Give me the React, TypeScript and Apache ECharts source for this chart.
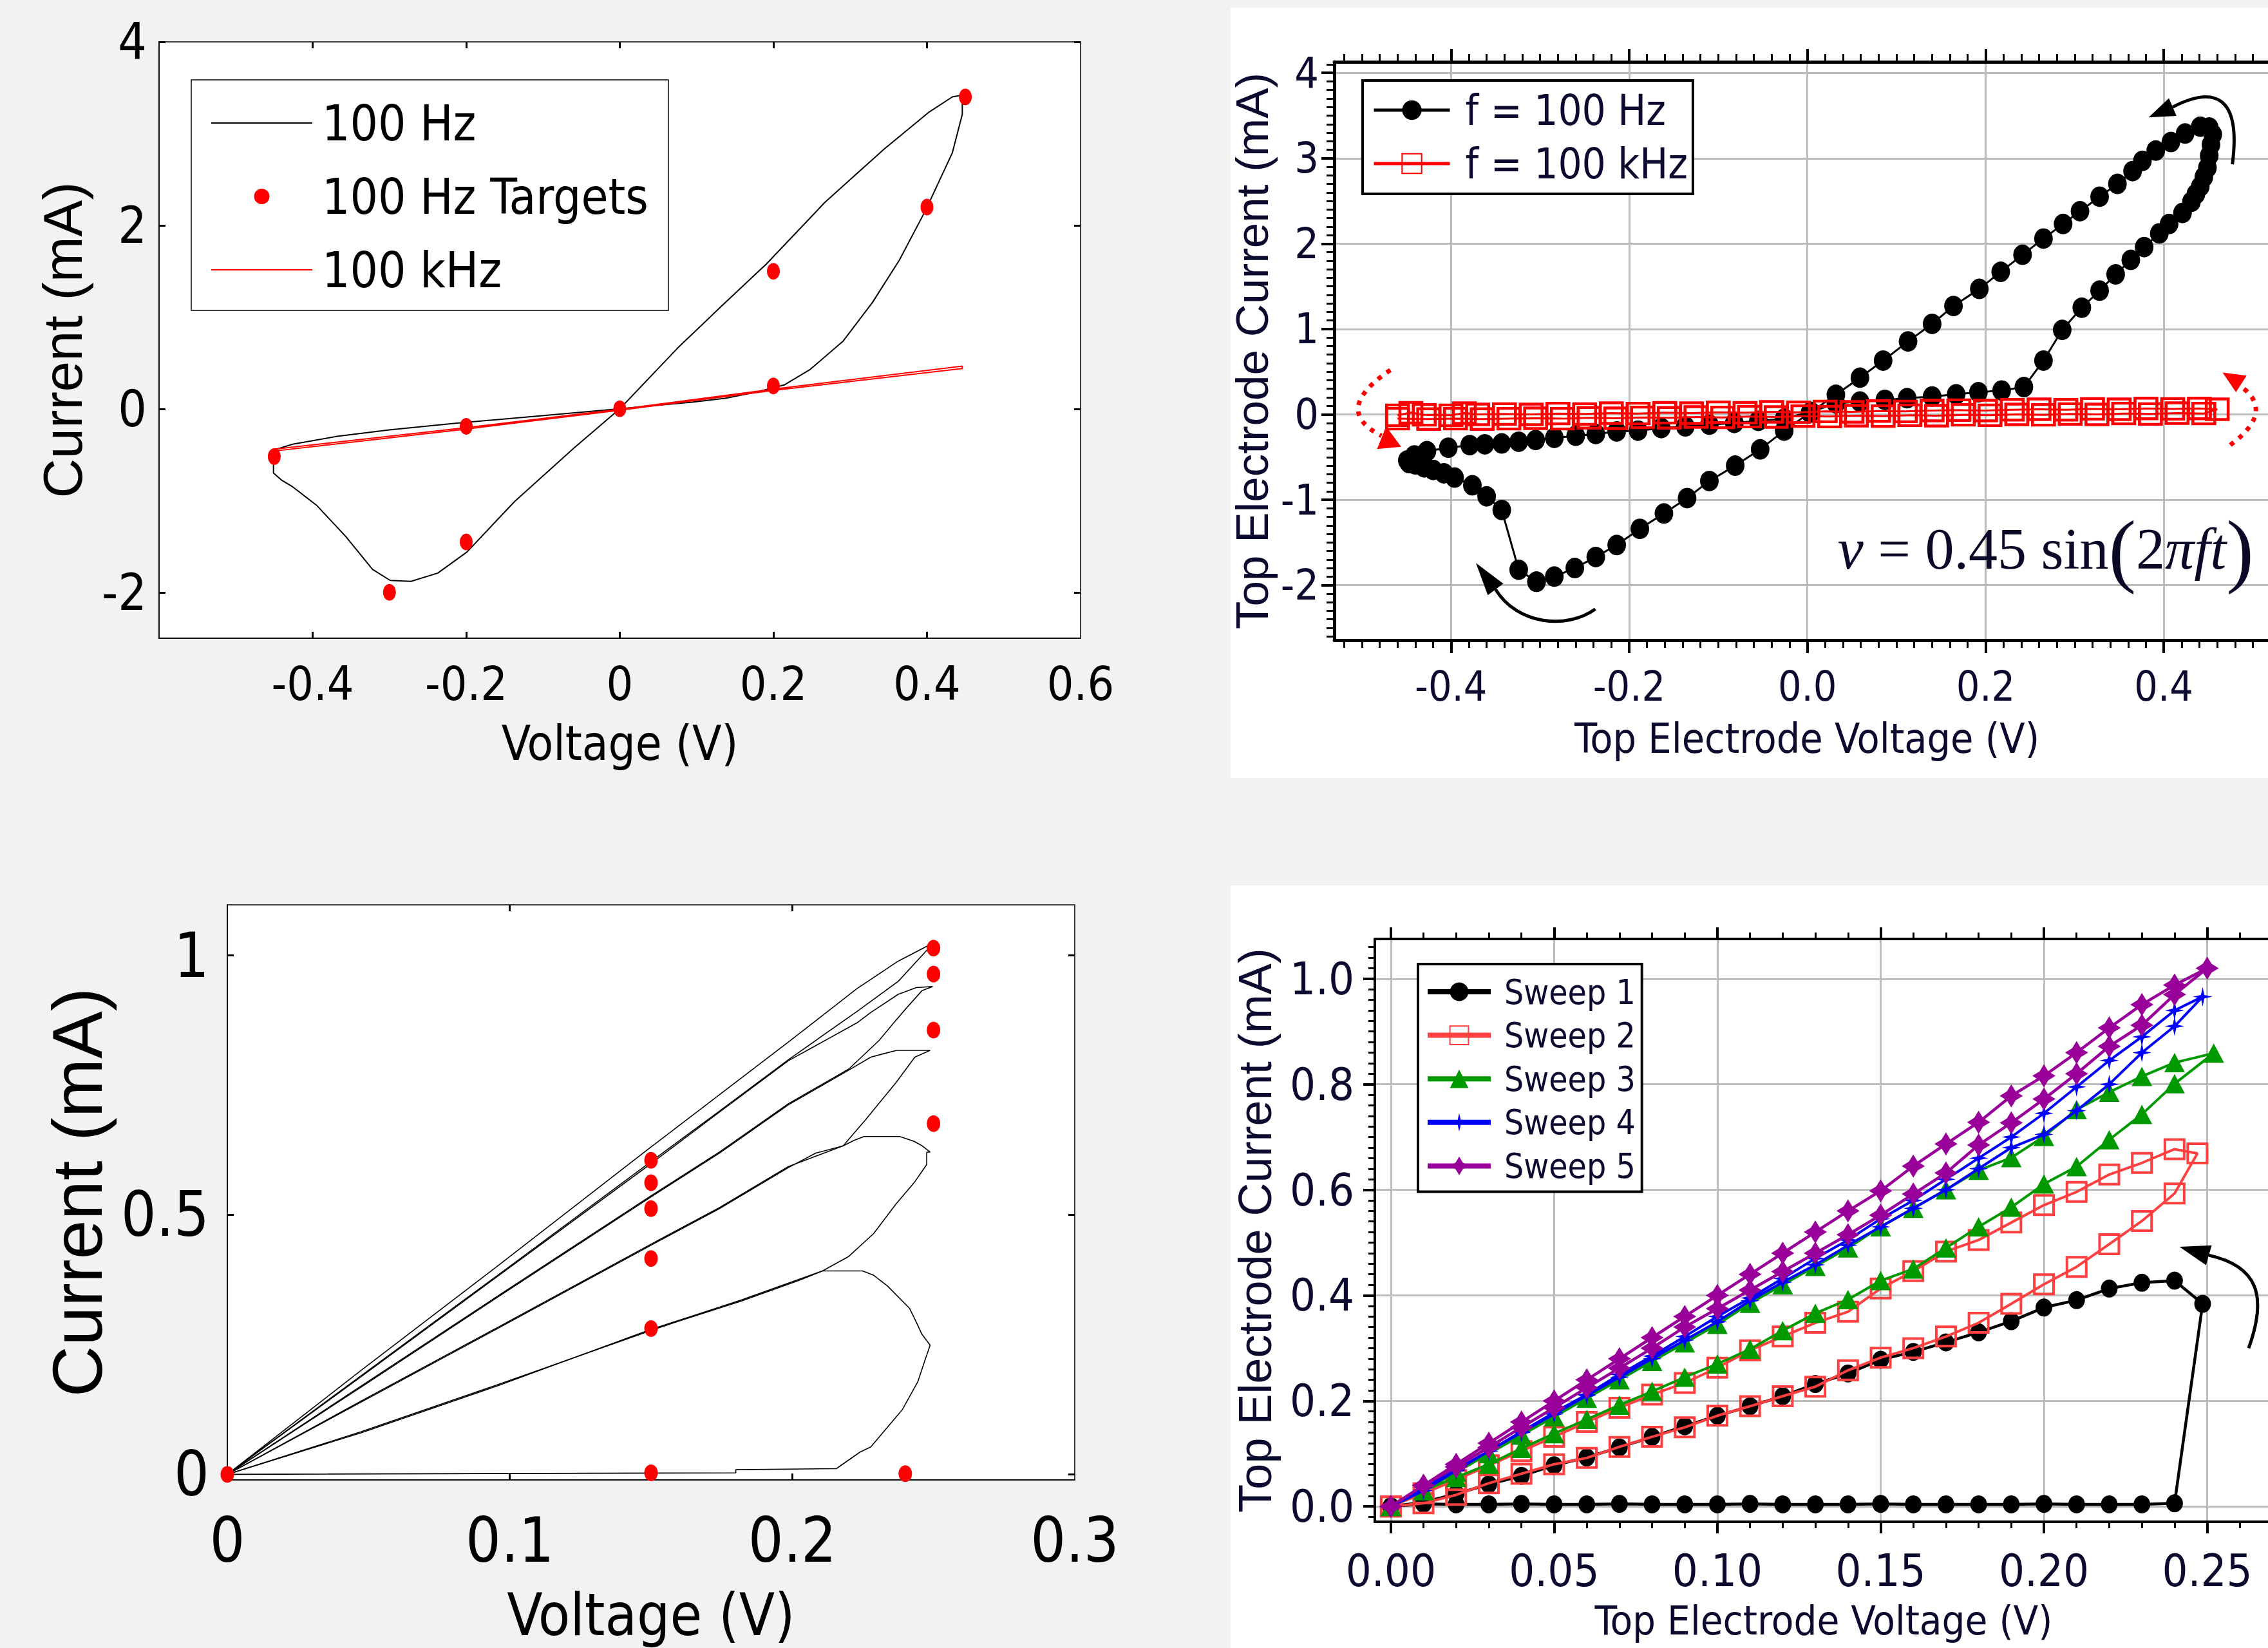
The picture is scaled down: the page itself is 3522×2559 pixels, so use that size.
import React, { useEffect, useRef } from 'react';
import * as echarts from 'echarts';

const W = 3522;
const H = 2559;
const NARROW = '"Liberation Sans Narrow", "Arial Narrow", "DejaVu Sans Condensed", "Liberation Sans", sans-serif';
const SANS = '"Liberation Sans", Arial, sans-serif';
const SERIF = '"Liberation Serif", "Times New Roman", serif';
const INK = '#0b0b30';
const GRID_GRAY = '#bcbcbc';

// ---------- Panel A (top-left): simulated loop, 100 Hz vs 100 kHz ----------
const A_HZ_LOOP = [
  [0, 0], [0.075, 0.66], [0.1325, 1.12], [0.191, 1.58], [0.267, 2.25], [0.344, 2.83], [0.402, 3.23],
  [0.433, 3.4], [0.446, 3.42], [0.446, 3.21], [0.433, 2.79], [0.398, 2.16], [0.364, 1.62], [0.329, 1.16],
  [0.291, 0.74], [0.248, 0.43], [0.214, 0.26], [0.175, 0.177], [0.137, 0.115], [0.094, 0.073], [0.045, 0.035],
  [0, 0], [-0.099, -0.073], [-0.214, -0.157], [-0.3, -0.23], [-0.368, -0.3], [-0.426, -0.385], [-0.451, -0.45],
  [-0.451, -0.7], [-0.44, -0.78], [-0.426, -0.85], [-0.395, -1.05], [-0.357, -1.39], [-0.322, -1.75],
  [-0.299, -1.87], [-0.272, -1.88], [-0.237, -1.79], [-0.199, -1.56], [-0.137, -1.01], [-0.06, -0.43], [0, 0],
];
const A_KHZ_LOOP = [
  [-0.45, -0.44], [-0.2, -0.205], [0, -0.005], [0.2, 0.215], [0.446, 0.465],
  [0.446, 0.44], [0.2, 0.2], [0, -0.015], [-0.2, -0.22], [-0.45, -0.46],
];
const A_TARGET_V = [-0.45, -0.3, -0.2, -0.2, 0, 0.2, 0.2, 0.4, 0.45];
const A_TARGET_I = [-0.52, -2.0, -1.45, -0.19, 0, 0.25, 1.5, 2.2, 3.4];
const A_X_TICKS = [-0.4, -0.2, 0, 0.2, 0.4];
const A_X_LABELS = [-0.4, -0.2, 0, 0.2, 0.4, 0.6];
const A_Y_TICKS = [-2, 0, 2, 4];

// ---------- Panel B (top-right): measured loop ----------
const B_HZ_LOOP = [
  [-0.304, -1.96], [-0.284, -1.9], [-0.261, -1.8], [-0.2375, -1.67], [-0.214, -1.53], [-0.188, -1.34],
  [-0.161, -1.16], [-0.135, -0.98], [-0.11, -0.78], [-0.081, -0.6], [-0.053, -0.41], [-0.026, -0.19],
  [0.003, 0.02], [0.032, 0.23], [0.059, 0.43], [0.085, 0.63], [0.113, 0.855], [0.14, 1.06], [0.164, 1.27],
  [0.193, 1.47], [0.217, 1.67], [0.2415, 1.87], [0.265, 2.06], [0.287, 2.23], [0.306, 2.38], [0.328, 2.55],
  [0.348, 2.7], [0.365, 2.85], [0.376, 2.97], [0.391, 3.09], [0.408, 3.19], [0.424, 3.29], [0.441, 3.37],
  [0.451, 3.36], [0.455, 3.28], [0.453, 3.16], [0.451, 3.03], [0.449, 2.89], [0.445, 2.78], [0.441, 2.67],
  [0.436, 2.58], [0.431, 2.49], [0.421, 2.36], [0.406, 2.23], [0.395, 2.12], [0.378, 1.96], [0.363, 1.81],
  [0.346, 1.64], [0.328, 1.45], [0.308, 1.25], [0.286, 0.99], [0.265, 0.63], [0.243, 0.32], [0.218, 0.28],
  [0.192, 0.26], [0.167, 0.235], [0.14, 0.21], [0.112, 0.19], [0.087, 0.17], [0.059, 0.15], [0.032, 0.13],
  [0.004, 0.03], [-0.026, -0.05], [-0.055, -0.075], [-0.082, -0.1], [-0.11, -0.12], [-0.137, -0.14],
  [-0.164, -0.16], [-0.19, -0.19], [-0.214, -0.2], [-0.2375, -0.23], [-0.26, -0.25], [-0.284, -0.275],
  [-0.305, -0.3], [-0.324, -0.32], [-0.343, -0.34], [-0.362, -0.35], [-0.379, -0.36], [-0.403, -0.39],
  [-0.427, -0.43], [-0.441, -0.48], [-0.449, -0.54], [-0.447, -0.57], [-0.44, -0.585], [-0.43, -0.62],
  [-0.42, -0.65], [-0.408, -0.69], [-0.396, -0.74], [-0.376, -0.83], [-0.36, -0.96], [-0.343, -1.12],
  [-0.324, -1.82], [-0.304, -1.96],
];
const B_KHZ_LOOP = [
  [-0.46, -0.01], [-0.445, 0.02], [-0.43, -0.005], [-0.4, -0.01], [-0.385, 0.015], [-0.37, 0.0], [-0.34, 0.005],
  [-0.31, 0.0], [-0.28, 0.01], [-0.25, 0.005], [-0.22, 0.015], [-0.19, 0.01], [-0.16, 0.02], [-0.13, 0.015],
  [-0.1, 0.025], [-0.07, 0.02], [-0.04, 0.03], [-0.01, 0.025], [0.02, 0.035], [0.05, 0.03], [0.08, 0.04],
  [0.11, 0.035], [0.14, 0.045], [0.17, 0.05], [0.2, 0.045], [0.23, 0.055], [0.26, 0.06], [0.29, 0.055],
  [0.32, 0.065], [0.35, 0.06], [0.38, 0.07], [0.41, 0.065], [0.44, 0.07], [0.46, 0.06],
  [0.445, 0.01], [0.415, 0.015], [0.385, 0.005], [0.355, 0.01], [0.325, 0.0], [0.295, 0.005], [0.265, -0.005],
  [0.235, 0.0], [0.205, -0.01], [0.175, -0.005], [0.145, -0.015], [0.115, -0.01], [0.085, -0.02], [0.055, -0.015],
  [0.025, -0.025], [-0.005, -0.02], [-0.035, -0.03], [-0.065, -0.025], [-0.095, -0.035], [-0.125, -0.03],
  [-0.155, -0.04], [-0.185, -0.035], [-0.215, -0.045], [-0.245, -0.04], [-0.275, -0.05], [-0.305, -0.045],
  [-0.335, -0.05], [-0.365, -0.055], [-0.395, -0.05], [-0.425, -0.055], [-0.46, -0.05],
];
const B_X_MAJOR = [-0.4, -0.2, 0, 0.2, 0.4];
const B_Y_MAJOR = [-2, -1, 0, 1, 2, 3, 4];

// ---------- Panel C (bottom-left): simulated sweeps ----------
const C_SWEEP1 = [[0, 0], [0.18, 0.003], [0.18, 0.009], [0.2156, 0.011], [0.224, 0.043], [0.2278, 0.053], [0.239, 0.125], [0.2444, 0.178], [0.2468, 0.217], [0.2488, 0.249], [0.2459, 0.27], [0.2434, 0.299], [0.2415, 0.32], [0.2337, 0.363], [0.2287, 0.384], [0.2249, 0.392], [0.2107, 0.392], [0.2025, 0.374], [0.182, 0.334], [0.1596, 0.295], [0.1498, 0.277], [0.0953, 0.172], [0.0473, 0.082], [0, 0]];
const C_SWEEP2 = [[0, 0], [0.0473, 0.08], [0.0953, 0.17], [0.1498, 0.279], [0.182, 0.336], [0.2107, 0.392], [0.22, 0.42], [0.2288, 0.464], [0.2366, 0.52], [0.2434, 0.564], [0.2476, 0.597], [0.2476, 0.621], [0.2488, 0.621], [0.246, 0.633], [0.243, 0.642], [0.238, 0.651], [0.2254, 0.651], [0.222, 0.644], [0.218, 0.633], [0.2083, 0.619], [0.1986, 0.591], [0.1742, 0.512], [0.1498, 0.441], [0.0953, 0.28], [0.0473, 0.139], [0, 0]];
const C_SWEEP3 = [[0, 0], [0.0473, 0.141], [0.0953, 0.282], [0.1498, 0.443], [0.1742, 0.514], [0.1986, 0.593], [0.218, 0.633], [0.2259, 0.683], [0.2307, 0.715], [0.2366, 0.754], [0.2434, 0.804], [0.2488, 0.817], [0.237, 0.817], [0.2326, 0.811], [0.2278, 0.804], [0.22, 0.779], [0.1986, 0.712], [0.1742, 0.619], [0.1498, 0.534], [0.0953, 0.34], [0.0473, 0.168], [0, 0]];
const C_SWEEP4 = [[0, 0], [0.0473, 0.17], [0.0953, 0.342], [0.1498, 0.536], [0.1742, 0.621], [0.1986, 0.714], [0.22, 0.781], [0.2307, 0.836], [0.2356, 0.868], [0.24, 0.896], [0.2459, 0.932], [0.2497, 0.94], [0.2439, 0.938], [0.2375, 0.925], [0.2278, 0.89], [0.2229, 0.87], [0.1986, 0.797], [0.1742, 0.698], [0.1498, 0.598], [0.0953, 0.38], [0.0473, 0.188], [0, 0]];
const C_SWEEP5 = [[0, 0], [0.0473, 0.19], [0.0953, 0.382], [0.1498, 0.602], [0.1742, 0.7], [0.1986, 0.799], [0.2229, 0.892], [0.2375, 0.95], [0.2478, 1.011], [0.2478, 1.018], [0.2375, 0.989], [0.2229, 0.936], [0.1986, 0.833], [0.1498, 0.63], [0.0953, 0.4], [0.0473, 0.2], [0, 0]];
const C_TARGET_V = [0, 0.15, 0.15, 0.15, 0.15, 0.15, 0.15, 0.24, 0.25, 0.25, 0.25, 0.25];
const C_TARGET_I = [0, 0.003, 0.281, 0.416, 0.512, 0.562, 0.605, 0.0015, 0.676, 0.856, 0.964, 1.014];
const C_X_LABELS = [0, 0.1, 0.2, 0.3];
const C_X_TICKS = [0.1, 0.2];
const C_Y_TICKS = [0, 0.5, 1];

// ---------- Panel D (bottom-right): measured sweeps ----------
const D_V = [0, 0.01, 0.02, 0.03, 0.04, 0.05, 0.06, 0.07, 0.08, 0.09, 0.1, 0.11, 0.12, 0.13, 0.14, 0.15, 0.16, 0.17, 0.18, 0.19, 0.2, 0.21, 0.22, 0.23, 0.24];
const D_F1 = [0, 0.005, 0.004, 0.004, 0.005, 0.004, 0.004, 0.005, 0.004, 0.004, 0.004, 0.005, 0.004, 0.004, 0.004, 0.005, 0.004, 0.004, 0.004, 0.004, 0.005, 0.004, 0.004, 0.004, 0.006];
const D_T1 = [0.2486, 0.384];
const D_R1 = [0.428, 0.424, 0.413, 0.391, 0.377, 0.351, 0.33, 0.311, 0.293, 0.278, 0.252, 0.232, 0.209, 0.19, 0.172, 0.152, 0.132, 0.112, 0.093, 0.078, 0.058, 0.042, 0.024, 0.008, 0];
const D_F2 = [0, 0.006, 0.022, 0.044, 0.062, 0.08, 0.092, 0.113, 0.132, 0.15, 0.172, 0.19, 0.209, 0.227, 0.258, 0.282, 0.3, 0.322, 0.348, 0.384, 0.421, 0.454, 0.497, 0.541, 0.593];
const D_T2 = [0.247, 0.669];
const D_R2 = [0.677, 0.651, 0.629, 0.596, 0.571, 0.538, 0.505, 0.483, 0.446, 0.413, 0.369, 0.348, 0.322, 0.296, 0.263, 0.234, 0.212, 0.187, 0.16, 0.132, 0.105, 0.078, 0.05, 0.025, 0];
const D_F3 = [0, 0.03, 0.055, 0.08, 0.11, 0.138, 0.165, 0.192, 0.218, 0.245, 0.27, 0.298, 0.333, 0.366, 0.392, 0.428, 0.45, 0.49, 0.53, 0.567, 0.611, 0.644, 0.695, 0.743, 0.801];
const D_T3 = [0.252, 0.859];
const D_R3 = [0.841, 0.815, 0.785, 0.752, 0.701, 0.661, 0.637, 0.6, 0.565, 0.53, 0.49, 0.455, 0.42, 0.385, 0.345, 0.31, 0.275, 0.24, 0.205, 0.17, 0.135, 0.1, 0.065, 0.03, 0];
const D_F4 = [0, 0.03, 0.068, 0.105, 0.14, 0.175, 0.21, 0.245, 0.28, 0.315, 0.35, 0.39, 0.425, 0.458, 0.495, 0.53, 0.565, 0.6, 0.64, 0.68, 0.705, 0.75, 0.8, 0.86, 0.91];
const D_T4 = [0.2486, 0.966];
const D_R4 = [0.94, 0.89, 0.845, 0.795, 0.745, 0.7, 0.66, 0.62, 0.58, 0.545, 0.505, 0.47, 0.432, 0.395, 0.36, 0.322, 0.285, 0.25, 0.212, 0.178, 0.142, 0.105, 0.07, 0.035, 0];
const D_F5 = [0, 0.04, 0.075, 0.112, 0.15, 0.187, 0.225, 0.262, 0.3, 0.34, 0.375, 0.41, 0.445, 0.48, 0.515, 0.552, 0.592, 0.632, 0.685, 0.727, 0.772, 0.82, 0.872, 0.912, 0.97];
const D_T5 = [0.25, 1.02];
const D_R5 = [0.988, 0.951, 0.907, 0.86, 0.816, 0.778, 0.728, 0.687, 0.645, 0.598, 0.56, 0.52, 0.48, 0.44, 0.4, 0.36, 0.32, 0.28, 0.24, 0.2, 0.16, 0.12, 0.08, 0.04, 0];
const D_X_MAJOR = [0, 0.05, 0.1, 0.15, 0.2, 0.25];
const D_Y_MAJOR = [0, 0.2, 0.4, 0.6, 0.8, 1.0];

const STAR_THIN = 'path://M0,-10L1.8,-1.8L10,0L1.8,1.8L0,10L-1.8,1.8L-10,0L-1.8,-1.8Z';
const STAR_FAT = 'path://M0,-10L3.8,-3.8L10,0L3.8,3.8L0,10L-3.8,3.8L-10,0L-3.8,-3.8Z';
const LINE_ICON = 'path://M0,0h157v2h-157z';
const DOT_ICON = 'path://M0,10a10,10 0 1,0 20,0a10,10 0 1,0 -20,0z';

function minorTicks(from: number, to: number, step: number, major: number) {
  const out: number[] = [];
  const n = Math.round((to - from) / step);
  for (let k = 0; k <= n; k++) {
    const v = +(from + k * step).toFixed(4);
    const r = v / major;
    if (Math.abs(r - Math.round(r)) > 1e-6) out.push(v);
  }
  return out;
}

function ax(o: any) {
  return {
    type: 'value',
    ...o,
    axisLine: { show: false, onZero: false, ...(o.axisLine || {}) },
    axisTick: { show: false, ...(o.axisTick || {}) },
    axisLabel: { show: false, ...(o.axisLabel || {}) },
    splitLine: { show: false, ...(o.splitLine || {}) },
  };
}

const trim = (v: number) => String(Math.round(v * 1000) / 1000);

function buildOption() {
  const xAxis: any[] = [];
  const yAxis: any[] = [];
  const addX = (o: any) => { xAxis.push(ax(o)); return xAxis.length - 1; };
  const addY = (o: any) => { yAxis.push(ax(o)); return yAxis.length - 1; };

  const blackThin = { color: '#000', width: 1.5 };
  const matTick = { color: '#000', width: 3 };

  // Panel A axes
  const ax0 = addX({
    gridIndex: 0, position: 'bottom', min: -0.6, max: 0.6,
    axisLine: { show: true, lineStyle: blackThin },
    axisTick: { show: true, inside: true, length: 10, customValues: A_X_TICKS, lineStyle: matTick },
    axisLabel: { show: true, customValues: A_X_LABELS, formatter: trim, margin: 34, color: '#000', fontFamily: NARROW, fontSize: 73 },
    name: 'Voltage (V)', nameLocation: 'middle', nameGap: 126,
    nameTextStyle: { color: '#000', fontFamily: NARROW, fontSize: 74 },
  });
  addX({ gridIndex: 0, position: 'top', min: -0.6, max: 0.6, axisTick: { show: true, inside: true, length: 10, customValues: A_X_TICKS, lineStyle: matTick } });
  const ay0 = addY({
    gridIndex: 0, position: 'left', min: -2.5, max: 4,
    axisLine: { show: true, lineStyle: blackThin },
    axisTick: { show: true, inside: true, length: 10, customValues: A_Y_TICKS, lineStyle: matTick },
    axisLabel: { show: true, customValues: A_Y_TICKS, formatter: trim, margin: 19, color: '#000', fontFamily: NARROW, fontSize: 78 },
    name: 'Current (mA)', nameLocation: 'middle', nameGap: 107,
    nameTextStyle: { color: '#000', fontFamily: SANS, fontSize: 85 },
  });
  addY({ gridIndex: 0, position: 'right', min: -2.5, max: 4, axisTick: { show: true, inside: true, length: 10, customValues: A_Y_TICKS, lineStyle: matTick } });

  // Panel B axes
  const bxMin = -0.531, bxMax = 0.53, byMin = -2.644, byMax = 4.13;
  const bMajorTick = { color: '#000', width: 4 };
  const bMinorTick = { color: '#000', width: 3 };
  const bx = addX({
    gridIndex: 1, position: 'bottom', min: bxMin, max: bxMax, splitNumber: 5,
    axisLine: { show: true, lineStyle: { color: '#000', width: 5 } },
    axisTick: { show: true, length: 20, customValues: B_X_MAJOR, lineStyle: bMajorTick },
    axisLabel: { show: true, customValues: B_X_MAJOR, formatter: (v: number) => v.toFixed(1), margin: 40, color: INK, fontFamily: NARROW, fontSize: 64 },
    splitLine: { show: true, lineStyle: { color: GRID_GRAY, width: 3 } },
    name: 'Top Electrode Voltage (V)', nameLocation: 'middle', nameGap: 121,
    nameTextStyle: { color: INK, fontFamily: NARROW, fontSize: 64 },
  });
  addX({ gridIndex: 1, position: 'bottom', min: bxMin, max: bxMax, axisTick: { show: true, length: 12, customValues: minorTicks(-0.52, 0.52, 0.02, 0.2), lineStyle: bMinorTick } });
  addX({ gridIndex: 1, position: 'top', min: bxMin, max: bxMax, axisLine: { show: true, lineStyle: { color: '#000', width: 5 } }, axisTick: { show: true, length: 20, customValues: B_X_MAJOR, lineStyle: bMajorTick } });
  addX({ gridIndex: 1, position: 'top', min: bxMin, max: bxMax, axisTick: { show: true, length: 12, customValues: minorTicks(-0.52, 0.52, 0.02, 0.2), lineStyle: bMinorTick } });
  const by = addY({
    gridIndex: 1, position: 'left', min: byMin, max: byMax, splitNumber: 7,
    axisLine: { show: true, lineStyle: { color: '#000', width: 5 } },
    axisTick: { show: true, length: 20, customValues: B_Y_MAJOR, lineStyle: bMajorTick },
    axisLabel: { show: true, customValues: B_Y_MAJOR, formatter: trim, margin: 24, color: INK, fontFamily: NARROW, fontSize: 66 },
    splitLine: { show: true, lineStyle: { color: GRID_GRAY, width: 3 } },
    name: 'Top Electrode Current (mA)', nameLocation: 'middle', nameGap: 92,
    nameTextStyle: { color: INK, fontFamily: SANS, fontSize: 71 },
  });
  addY({ gridIndex: 1, position: 'left', min: byMin, max: byMax, axisTick: { show: true, length: 12, customValues: minorTicks(-2.6, 4.1, 0.1, 1), lineStyle: bMinorTick } });

  // Panel C axes
  const cyMin = -0.0107, cyMax = 1.0975;
  const cx = addX({
    gridIndex: 2, position: 'bottom', min: 0, max: 0.3,
    axisLine: { show: true, lineStyle: blackThin },
    axisTick: { show: true, inside: true, length: 10, customValues: C_X_TICKS, lineStyle: matTick },
    axisLabel: { show: true, customValues: C_X_LABELS, formatter: trim, margin: 46, color: '#000', fontFamily: NARROW, fontSize: 96 },
    name: 'Voltage (V)', nameLocation: 'middle', nameGap: 164,
    nameTextStyle: { color: '#000', fontFamily: NARROW, fontSize: 90 },
  });
  addX({ gridIndex: 2, position: 'top', min: 0, max: 0.3, axisTick: { show: true, inside: true, length: 10, customValues: C_X_TICKS, lineStyle: matTick } });
  const cy = addY({
    gridIndex: 2, position: 'left', min: cyMin, max: cyMax,
    axisLine: { show: true, lineStyle: blackThin },
    axisTick: { show: true, inside: true, length: 10, customValues: C_Y_TICKS, lineStyle: matTick },
    axisLabel: { show: true, customValues: C_Y_TICKS, formatter: trim, margin: 28, color: '#000', fontFamily: NARROW, fontSize: 96 },
    name: 'Current (mA)', nameLocation: 'middle', nameGap: 179,
    nameTextStyle: { color: '#000', fontFamily: SANS, fontSize: 110 },
  });
  addY({ gridIndex: 2, position: 'right', min: cyMin, max: cyMax, axisTick: { show: true, inside: true, length: 10, customValues: C_Y_TICKS, lineStyle: matTick } });

  // Panel D axes
  const dxMin = -0.0049, dxMax = 0.27, dyMin = -0.029, dyMax = 1.0754;
  const dx = addX({
    gridIndex: 3, position: 'bottom', min: dxMin, max: dxMax, splitNumber: 5,
    axisLine: { show: true, lineStyle: { color: '#000', width: 4 } },
    axisTick: { show: true, length: 18, customValues: D_X_MAJOR, lineStyle: bMajorTick },
    axisLabel: { show: true, customValues: D_X_MAJOR, formatter: (v: number) => v.toFixed(2), margin: 41, color: INK, fontFamily: NARROW, fontSize: 70 },
    splitLine: { show: true, lineStyle: { color: GRID_GRAY, width: 3 } },
    name: 'Top Electrode Voltage (V)', nameLocation: 'middle', nameGap: 122,
    nameTextStyle: { color: INK, fontFamily: NARROW, fontSize: 63 },
  });
  addX({ gridIndex: 3, position: 'bottom', min: dxMin, max: dxMax, axisTick: { show: true, length: 10, customValues: minorTicks(0, 0.26, 0.01, 0.05), lineStyle: bMinorTick } });
  addX({ gridIndex: 3, position: 'top', min: dxMin, max: dxMax, axisLine: { show: true, lineStyle: { color: '#000', width: 4 } }, axisTick: { show: true, length: 18, customValues: D_X_MAJOR, lineStyle: bMajorTick } });
  addX({ gridIndex: 3, position: 'top', min: dxMin, max: dxMax, axisTick: { show: true, length: 10, customValues: minorTicks(0, 0.26, 0.01, 0.05), lineStyle: bMinorTick } });
  const dy = addY({
    gridIndex: 3, position: 'left', min: dyMin, max: dyMax, splitNumber: 5,
    axisLine: { show: true, lineStyle: { color: '#000', width: 4 } },
    axisTick: { show: true, length: 18, customValues: D_Y_MAJOR, lineStyle: bMajorTick },
    axisLabel: { show: true, customValues: D_Y_MAJOR, formatter: (v: number) => v.toFixed(1), margin: 32, color: INK, fontFamily: NARROW, fontSize: 70 },
    splitLine: { show: true, lineStyle: { color: GRID_GRAY, width: 3 } },
    name: 'Top Electrode Current (mA)', nameLocation: 'middle', nameGap: 150,
    nameTextStyle: { color: INK, fontFamily: SANS, fontSize: 72 },
  });
  addY({ gridIndex: 3, position: 'left', min: dyMin, max: dyMax, axisTick: { show: true, length: 10, customValues: minorTicks(-0.02, 1.06, 0.02, 0.2), lineStyle: bMinorTick } });

  const dSeries = (F: number[], T: number[], R: number[]) => [
    ...D_V.map((v, i) => [v, F[i]]),
    T,
    ...D_V.slice().reverse().map((v, i) => [v, R[i]]),
  ];

  const series: any[] = [
    // Panel A (0..2)
    { type: 'line', name: '100 Hz', xAxisIndex: ax0, yAxisIndex: ay0, data: A_HZ_LOOP, symbol: 'none', lineStyle: { color: '#000', width: 2 }, itemStyle: { color: '#000' }, z: 3 },
    { type: 'line', name: '100 kHz', xAxisIndex: ax0, yAxisIndex: ay0, data: A_KHZ_LOOP, symbol: 'none', lineStyle: { color: '#ff0000', width: 2 }, itemStyle: { color: '#ff0000' }, z: 4 },
    { type: 'scatter', name: '100 Hz Targets', xAxisIndex: ax0, yAxisIndex: ay0, data: A_TARGET_V.map((v, i) => [v, A_TARGET_I[i]]), symbol: 'circle', symbolSize: [20, 26], itemStyle: { color: '#ff0000', opacity: 1 }, z: 5 },
    // Panel B (3..4)
    { type: 'line', name: 'f = 100 Hz', xAxisIndex: bx, yAxisIndex: by, data: B_HZ_LOOP, symbol: 'circle', symbolSize: [29, 32], lineStyle: { color: '#000', width: 3 }, itemStyle: { color: '#000' }, z: 3 },
    { type: 'line', name: 'f = 100 kHz', xAxisIndex: bx, yAxisIndex: by, data: B_KHZ_LOOP, symbol: 'rect', symbolSize: [34, 32], lineStyle: { color: '#ff0000', width: 3 }, itemStyle: { color: 'transparent', borderColor: '#ff0000', borderWidth: 4.5 }, z: 4 },
    // Panel C (5..10)
    ...[C_SWEEP1, C_SWEEP2, C_SWEEP3, C_SWEEP4, C_SWEEP5].map((d, k) => ({
      type: 'line', name: 'sim sweep ' + (k + 1), xAxisIndex: cx, yAxisIndex: cy, data: d, symbol: 'none', lineStyle: { color: '#000', width: 1.6 }, itemStyle: { color: '#000' }, z: 3,
    })),
    { type: 'scatter', name: 'sim targets', xAxisIndex: cx, yAxisIndex: cy, data: C_TARGET_V.map((v, i) => [v, C_TARGET_I[i]]), symbol: 'circle', symbolSize: [21, 26], itemStyle: { color: '#ff0000', opacity: 1 }, z: 5 },
    // Panel D (11..15)
    { type: 'line', name: 'Sweep 1', xAxisIndex: dx, yAxisIndex: dy, data: dSeries(D_F1, D_T1, D_R1), symbol: 'circle', symbolSize: [26, 28], lineStyle: { color: '#000', width: 4.5 }, itemStyle: { color: '#000' }, z: 3 },
    { type: 'line', name: 'Sweep 2', xAxisIndex: dx, yAxisIndex: dy, data: dSeries(D_F2, D_T2, D_R2), symbol: 'rect', symbolSize: [30, 30], lineStyle: { color: '#ff4040', width: 4 }, itemStyle: { color: 'transparent', borderColor: '#ff4040', borderWidth: 4 }, z: 4 },
    { type: 'line', name: 'Sweep 3', xAxisIndex: dx, yAxisIndex: dy, data: dSeries(D_F3, D_T3, D_R3), symbol: 'triangle', symbolSize: [32, 30], lineStyle: { color: '#009900', width: 4 }, itemStyle: { color: '#009900' }, z: 5 },
    { type: 'line', name: 'Sweep 4', xAxisIndex: dx, yAxisIndex: dy, data: dSeries(D_F4, D_T4, D_R4), symbol: STAR_THIN, symbolSize: 30, lineStyle: { color: '#0000ff', width: 4 }, itemStyle: { color: '#0000ff' }, z: 6 },
    { type: 'line', name: 'Sweep 5', xAxisIndex: dx, yAxisIndex: dy, data: dSeries(D_F5, D_T5, D_R5), symbol: STAR_FAT, symbolSize: 36, lineStyle: { color: '#990099', width: 4.5 }, itemStyle: { color: '#990099' }, z: 7 },
  ];

  const legend: any[] = [
    {
      orient: 'vertical', left: 297, top: 124, selectedMode: false,
      data: [
        { name: '100 Hz', icon: LINE_ICON, itemStyle: { borderWidth: 0 } },
        { name: '100 Hz Targets', icon: DOT_ICON, itemStyle: { borderWidth: 0 } },
        { name: '100 kHz', icon: LINE_ICON, itemStyle: { borderWidth: 0 } },
      ],
      itemWidth: 157, itemHeight: 24, itemGap: 14, padding: [17, 31, 13, 31],
      backgroundColor: '#fff', borderColor: '#000', borderWidth: 1.5,
      textStyle: { color: '#000', fontFamily: NARROW, fontSize: 76, lineHeight: 100, padding: [0, 0, 0, 10] },
    },
    {
      orient: 'vertical', left: 2116, top: 125, selectedMode: false,
      data: ['f = 100 Hz', 'f = 100 kHz'],
      itemWidth: 118, itemHeight: 38, itemGap: 3, padding: [6, 8, 7, 15],
      backgroundColor: '#fff', borderColor: '#000', borderWidth: 4,
      lineStyle: { width: 5 },
      textStyle: { color: INK, fontFamily: NARROW, fontSize: 65, lineHeight: 80, padding: [0, 0, 0, 19] },
    },
    {
      orient: 'vertical', left: 2202, top: 1497, selectedMode: false,
      data: ['Sweep 1', 'Sweep 2', 'Sweep 3', 'Sweep 4', 'Sweep 5'],
      itemWidth: 98, itemHeight: 36, itemGap: 3.6, padding: [11, 10, 8, 11],
      backgroundColor: '#fff', borderColor: '#000', borderWidth: 4,
      lineStyle: { width: 8 },
      textStyle: { color: INK, fontFamily: NARROW, fontSize: 53, lineHeight: 64, padding: [0, 0, 0, 16] },
    },
  ];

  return {
    animation: false,
    backgroundColor: '#f2f2f2',
    textStyle: { fontFamily: SANS },
    grid: [
      { left: 247, top: 65, width: 1431, height: 926, show: true, backgroundColor: '#fff', borderColor: '#000', borderWidth: 1.5, containLabel: false, outerBoundsMode: 'none' },
      { left: 2072, top: 96, width: 1468, height: 898, show: false, containLabel: false, outerBoundsMode: 'none' },
      { left: 353, top: 1405, width: 1316, height: 893, show: true, backgroundColor: '#fff', borderColor: '#000', borderWidth: 1.5, containLabel: false, outerBoundsMode: 'none' },
      { left: 2135, top: 1458, width: 1394, height: 905, show: false, containLabel: false, outerBoundsMode: 'none' },
    ],
    xAxis,
    yAxis,
    legend,
    series,
  };
}

// annotation anchors in data coordinates
const B_ARROW_TOP = { t: [0.477, 2.93], c1: [0.487, 3.72], c2: [0.458, 3.86], e: [0.41, 3.6], tip: [0.383, 3.48] };
const B_ARROW_BOTTOM = { t: [-0.238, -2.28], c1: [-0.27, -2.52], c2: [-0.325, -2.47], e: [-0.35, -2.05], tip: [-0.372, -1.74] };
const B_RED_LEFT = { t: [-0.468, 0.52], c: [-0.535, 0.05], e: [-0.478, -0.25], head: [[-0.4728, -0.14], [-0.483, -0.405], [-0.456, -0.38]] };
const B_RED_RIGHT = { t: [0.49, 0.3], c: [0.525, 0.0], e: [0.469, -0.4], head: [[0.466, 0.49], [0.493, 0.455], [0.481, 0.26]] };
const B_EQ_ANCHOR = [0.034, -1.58];
const D_ARROW = { t: [0.2627, 0.3], c1: [0.2685, 0.4], c2: [0.2655, 0.455], e: [0.2505, 0.476], tip: [0.2415, 0.492] };

function buildGraphic(chart: any) {
  const P = (si: number, d: number[]) => chart.convertToPixel({ seriesIndex: si }, d) as number[];
  const els: any[] = [
    { type: 'rect', z: -10, silent: true, shape: { x: 1911, y: 12, width: 1611, height: 1196 }, style: { fill: '#fff' } },
    { type: 'rect', z: -10, silent: true, shape: { x: 1911, y: 1375, width: 1611, height: 1184 }, style: { fill: '#fff' } },
  ];
  const cubicArrow = (si: number, a: any, color: string, width: number, hw: number) => {
    const t = P(si, a.t), c1 = P(si, a.c1), c2 = P(si, a.c2), e = P(si, a.e), tip = P(si, a.tip);
    els.push({ type: 'bezierCurve', z: 30, silent: true, shape: { x1: t[0], y1: t[1], cpx1: c1[0], cpy1: c1[1], cpx2: c2[0], cpy2: c2[1], x2: e[0], y2: e[1] }, style: { stroke: color, lineWidth: width, fill: null } });
    const dx = tip[0] - e[0], dy = tip[1] - e[1];
    const len = Math.hypot(dx, dy) || 1;
    const px = -dy / len, py = dx / len;
    els.push({ type: 'polygon', z: 30, silent: true, shape: { points: [[tip[0], tip[1]], [e[0] + px * hw, e[1] + py * hw], [e[0] - px * hw, e[1] - py * hw]] }, style: { fill: color } });
  };
  const dottedArrow = (si: number, a: any) => {
    const t = P(si, a.t), c = P(si, a.c), e = P(si, a.e);
    els.push({ type: 'bezierCurve', z: 30, silent: true, shape: { x1: t[0], y1: t[1], cpx1: c[0], cpy1: c[1], x2: e[0], y2: e[1] }, style: { stroke: '#ff0000', lineWidth: 7, fill: null, lineDash: [7, 10] } });
    els.push({ type: 'polygon', z: 30, silent: true, shape: { points: a.head.map((h: number[]) => P(si, h)) }, style: { fill: '#ff0000' } });
  };
  cubicArrow(3, B_ARROW_TOP, '#000', 5, 15);
  cubicArrow(3, B_ARROW_BOTTOM, '#000', 5, 15);
  dottedArrow(3, B_RED_LEFT);
  dottedArrow(3, B_RED_RIGHT);
  cubicArrow(11, D_ARROW, '#000', 5, 16);
  const eq = P(3, B_EQ_ANCHOR);
  els.push({
    type: 'text', z: 30, silent: true, x: eq[0], y: eq[1],
    style: {
      text: '{i|v} = 0.45 sin{p|(}2{i|πft}{p|)}',
      fontFamily: SERIF, fontSize: 90, fill: '#0a0a28', align: 'left', verticalAlign: 'middle',
      rich: {
        i: { fontFamily: SERIF, fontSize: 90, fontStyle: 'italic', fill: '#0a0a28' },
        p: { fontFamily: SERIF, fontSize: 128, fill: '#0a0a28' },
      },
    },
  });
  return els;
}

export default function App() {
  const ref = useRef<HTMLDivElement>(null);
  useEffect(() => {
    if (!ref.current) return;
    const chart = echarts.init(ref.current, null, { renderer: 'svg' });
    chart.setOption(buildOption() as any);
    chart.setOption({ graphic: buildGraphic(chart) } as any);
    return () => chart.dispose();
  }, []);
  return <div ref={ref} style={{ position: 'fixed', left: 0, top: 0, width: W, height: H }} />;
}
